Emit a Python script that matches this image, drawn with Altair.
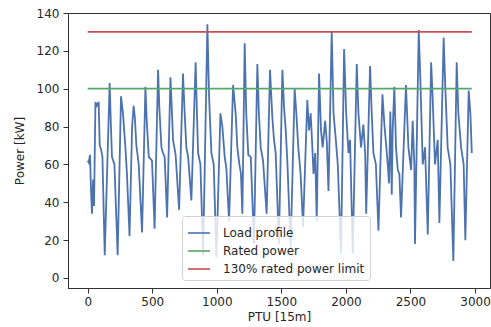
import altair as alt
import pandas as pd

# Load profile vertices (PTU index, kW)
load_x = [0, 8, 18, 25, 33, 42, 49, 60, 71, 85, 93, 103, 114, 132,
          152, 170, 180, 188, 207, 232,
          258, 273, 292, 304, 324,
          344, 356, 365, 377, 395, 421,
          447, 456, 473, 498, 518,
          545, 555, 571, 583, 596, 615,
          641, 651, 661, 681, 708,
          738, 751, 764, 778, 803,
          836, 845, 855, 873, 894,
          927, 940, 958, 976, 997,
          1028, 1043, 1061, 1074, 1095,
          1126, 1146, 1159, 1175, 1187, 1198,
          1216, 1228, 1244, 1263, 1288,
          1314, 1326, 1340, 1358, 1386,
          1412, 1430, 1443, 1456, 1481,
          1508, 1521, 1534, 1546, 1572,
          1603, 1616, 1631, 1649, 1668,
          1701, 1714, 1727, 1742, 1749, 1762, 1774,
          1792, 1807, 1820, 1839, 1852, 1865,
          1890, 1904, 1922, 1937, 1962,
          1986, 2002, 2020, 2032, 2053,
          2084, 2097, 2117, 2135, 2149, 2157,
          2187, 2200, 2213, 2232, 2252,
          2283, 2298, 2317, 2324, 2334, 2344, 2355, 2362,
          2375, 2388, 2402, 2414, 2427,
          2465, 2484, 2505, 2517, 2530, 2535,
          2564, 2577, 2595, 2613, 2634,
          2660, 2672, 2690, 2711, 2724,
          2757, 2768, 2788, 2809, 2832,
          2858, 2871, 2892, 2912, 2925,
          2951, 2964, 2975]
load_y = [62, 61, 65, 48, 34, 52, 38, 93, 91, 93, 70, 68, 64, 12,
          60, 103, 80, 64, 60, 12,
          96, 87, 69, 55, 22,
          80, 91, 85, 70, 60, 24,
          101, 85, 64, 62, 26,
          110, 90, 69, 66, 64, 32,
          106, 90, 73, 65, 36,
          108, 87, 69, 64, 41,
          114, 90, 66, 60, 12,
          134, 96, 66, 60, 11,
          87, 80, 64, 58, 30,
          102, 87, 69, 60, 55, 34,
          124, 87, 65, 64, 18,
          113, 87, 69, 62, 34,
          110, 85, 73, 66, 18,
          110, 90, 78, 62, 16,
          100, 87, 69, 55, 27,
          94, 78, 87, 66, 55, 66, 30,
          108, 78, 69, 83, 72, 46,
          130, 87, 73, 60, 13,
          121, 87, 66, 73, 13,
          113, 87, 69, 81, 66, 34,
          112, 87, 66, 60, 25,
          97, 81, 66, 60, 50, 88, 44, 78,
          101, 69, 57, 55, 32,
          102, 69, 57, 83, 60, 18,
          131, 104, 60, 69, 23,
          114, 95, 60, 73, 29,
          127, 104, 69, 60, 9,
          114, 87, 69, 60, 20,
          99, 87, 66]

limit_x = [0, 2975]
rated_y = [100, 100]
limit_y = [130, 130]

series_names = ["Load profile", "Rated power", "130% rated power limit"]
series_colors = ["#4c72b0", "#55a868", "#c44e52"]

rows = []
for i, (x, y) in enumerate(zip(load_x, load_y)):
    rows.append({"x": x, "y": y, "s": series_names[0], "o": i})
for i, (x, y) in enumerate(zip(limit_x, rated_y)):
    rows.append({"x": x, "y": y, "s": series_names[1], "o": i})
for i, (x, y) in enumerate(zip(limit_x, limit_y)):
    rows.append({"x": x, "y": y, "s": series_names[2], "o": i})
df = pd.DataFrame(rows)

font = "DejaVu Sans"

chart = alt.Chart(df).mark_line(strokeWidth=1.8, clip=True).encode(
    x=alt.X("x:Q", scale=alt.Scale(domain=[-152.6, 3116], nice=False, zero=False),
            axis=alt.Axis(values=[0, 500, 1000, 1500, 2000, 2500, 3000],
                          title="PTU [15m]", grid=False, tickSize=5,
                          labelPadding=3, titlePadding=4, format="d")),
    y=alt.Y("y:Q", scale=alt.Scale(domain=[-5.3, 140], nice=False, zero=False),
            axis=alt.Axis(values=[0, 20, 40, 60, 80, 100, 120, 140],
                          title="Power [kW]", grid=False, tickSize=5,
                          labelPadding=4, titlePadding=10)),
    color=alt.Color("s:N", sort=series_names,
                    scale=alt.Scale(domain=series_names, range=series_colors),
                    legend=alt.Legend(title=None, orient="none", legendX=114, legendY=203,
                                      symbolType="stroke", symbolSize=480,
                                      symbolStrokeWidth=1.6, labelFontSize=12,
                                      labelFont=font, labelColor="#262626",
                                      fillColor="rgba(255,255,255,0.8)",
                                      strokeColor="#d0d0d0", cornerRadius=3,
                                      padding=5, rowPadding=-4.5, labelOffset=12)),
    order="o:Q",
).properties(
    width=422, height=275,
    autosize=alt.AutoSizeParams(type="none"),
    padding={"left": 68, "top": 13, "right": 1, "bottom": 39},
).configure_view(
    stroke="#333333", strokeWidth=1
).configure_axis(
    labelFont=font, titleFont=font, labelFontSize=12, titleFontSize=12,
    titleFontWeight="normal", labelColor="#262626", titleColor="#262626",
    domainColor="#333333", tickColor="#333333", domainWidth=1,
)

chart.save("out.html", embed_options={"renderer": "svg", "actions": False})
